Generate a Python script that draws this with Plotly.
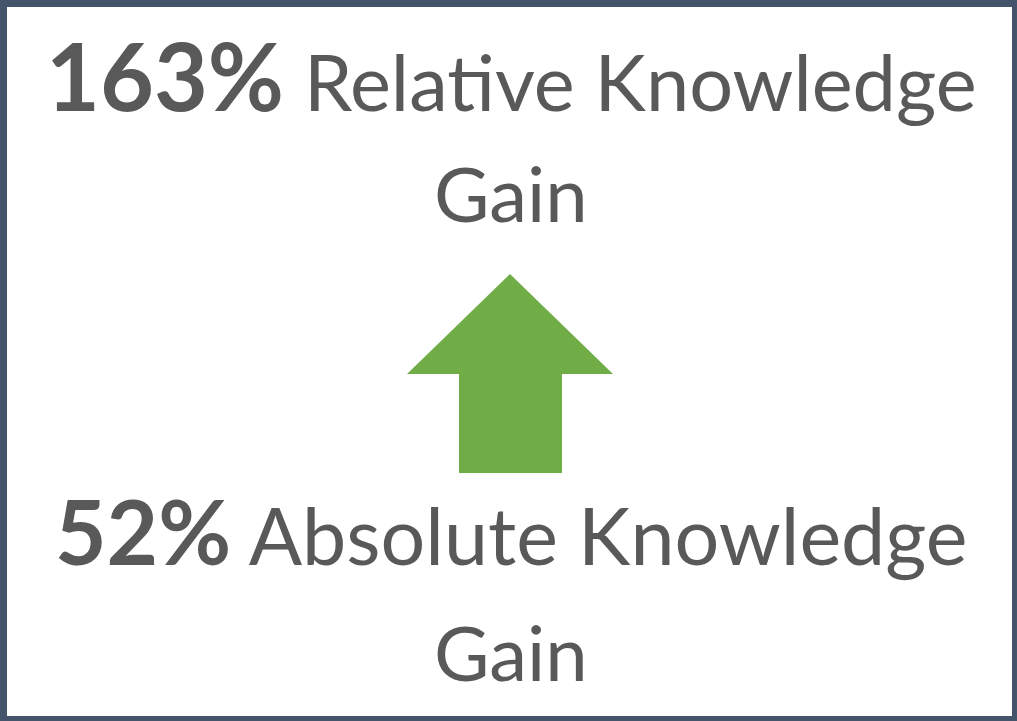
import plotly.graph_objects as go

# ---- data ----
metric_values = [163, 52]
metric_labels = ["Relative Knowledge", "Absolute Knowledge"]
metric_suffix = ["Gain", "Gain"]

TEXT_COLOR = "#595959"
ARROW_COLOR = "#70AD47"
BORDER_COLOR = "#44546A"
FONT = "Lato, 'Open Sans', sans-serif"

W, H = 1017, 721
fig = go.Figure()

# invisible trace to establish axes
fig.add_trace(go.Scatter(x=[0, W], y=[0, H], mode="markers",
                         marker=dict(opacity=0), hoverinfo="skip", showlegend=False))

# layout configs per block
blocks = [
    dict(cx=511, y1=75, y2=192, bold=93, norm=77.5, gsize=76),
    dict(cx=511, y1=530, y2=651, bold=89, norm=79, gsize=76),
]

annotations = []
for val, lab, suf, b in zip(metric_values, metric_labels, metric_suffix, blocks):
    annotations.append(dict(
        x=b["cx"], y=b["y1"], xref="x", yref="y",
        text=f"<b><span style='font-size:{b['bold']}px'>{val}%</span></b> {lab}",
        showarrow=False, xanchor="center", yanchor="middle",
        font=dict(family=FONT, size=b["norm"], color=TEXT_COLOR)))
    annotations.append(dict(
        x=b["cx"], y=b["y2"], xref="x", yref="y",
        text=suf, showarrow=False, xanchor="center", yanchor="middle",
        font=dict(family=FONT, size=b["gsize"], color=TEXT_COLOR)))

# arrow geometry
tip_x, tip_y = 510, 274
head_y, head_l, head_r = 374, 407, 613
shaft_l, shaft_r, shaft_b = 459, 562, 473
arrow_path = (f"M {tip_x} {tip_y} L {head_r} {head_y} L {shaft_r} {head_y} "
              f"L {shaft_r} {shaft_b} L {shaft_l} {shaft_b} L {shaft_l} {head_y} "
              f"L {head_l} {head_y} Z")

shapes = [
    dict(type="path", path=arrow_path, xref="x", yref="y",
         fillcolor=ARROW_COLOR, line=dict(width=0)),
    dict(type="rect", xref="x", yref="y", x0=3.5, y0=3.5, x1=1015.5, y1=719.5,
         line=dict(color=BORDER_COLOR, width=7), fillcolor="rgba(0,0,0,0)"),
]

fig.update_layout(
    width=W, height=H,
    margin=dict(l=0, r=0, t=0, b=0),
    paper_bgcolor="white", plot_bgcolor="white",
    xaxis=dict(range=[0, W], visible=False, fixedrange=True),
    yaxis=dict(range=[H, 0], visible=False, fixedrange=True),
    annotations=annotations, shapes=shapes, showlegend=False,
)

fig.write_html(
    "out.html",
    config={"displayModeBar": False},
    post_script="document.body.style.margin='0';document.body.style.overflow='hidden';",
)
